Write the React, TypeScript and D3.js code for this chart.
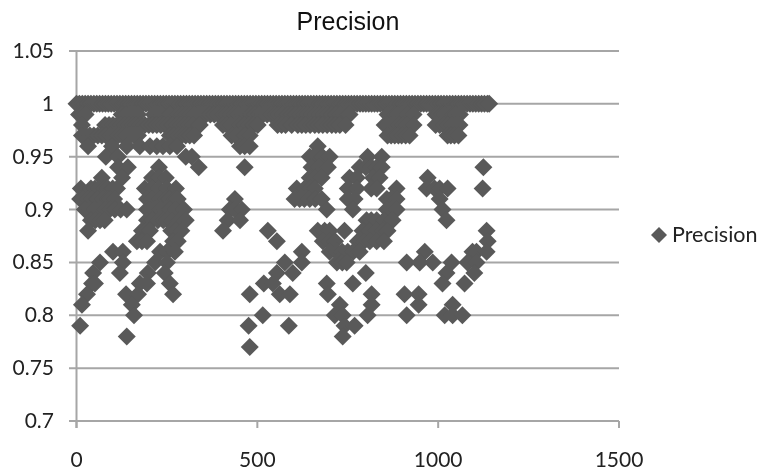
import React, { useEffect, useRef } from "react";
import * as d3 from "d3";

const yTicks = [0.7, 0.75, 0.8, 0.85, 0.9, 0.95, 1, 1.05];
const xTicks = [0, 500, 1000, 1500];

// x values (sample index), one list per precision level
const p100 = [0,8,16,24,32,40,48,56,64,72,80,88,96,104,112,120,128,136,144,152,160,168,176,184,192,200,208,216,224,232,240,248,256,264,272,280,288,296,304,312,320,328,336,344,352,360,368,376,384,392,400,408,416,424,432,440,448,456,464,472,480,488,496,504,512,520,528,536,544,552,560,568,576,584,592,600,608,616,624,632,640,648,656,664,672,680,688,696,704,712,720,728,736,744,752,760,768,776,784,792,800,808,816,824,832,840,848,856,864,872,880,888,896,904,912,920,928,936,944,952,960,968,976,984,992,1000,1008,1016,1024,1032,1040,1048,1056,1064,1072,1080,1088,1096,1104,1112,1120,1128,1136,1141];
const p99 = [7,16,25,125,136,148,159,170,214,225,236,258,280,291,302,314,325,336,347,358,370,381,392,404,415,426,437,448,460,471,482,494,505,516,527,538,550,561,572,584,595,606,617,628,640,651,662,674,685,696,707,718,730,740,750,755,860,870,880,890,900,915,932,993,1001,1010,1020,1030,1040,1050,1060];
const p98 = [15,79,90,101,112,123,134,145,156,167,178,189,200,211,222,233,244,255,266,278,289,300,311,322,341,405,416,427,440,452,465,479,490,501,556,567,578,595,612,623,634,646,659,670,681,693,706,717,728,744,852,861,871,882,893,904,915,932,993,1004,1015,1026,1037,1048,1059];
const p97 = [15,26,37,48,59,70,81,92,104,115,126,137,148,159,170,258,269,280,291,302,313,325,429,440,452,465,479,860,870,880,890,899,910,921,1026,1035,1045,1056];
const p96 = [32,98,139,175,203,222,239,258,278,452,465,479,667];
const p95 = [81,115,302,319,645,655,680,700,805,844];
const p94 = [115,142,228,338,465,650,670,695,783,800,816,830,844,1125];
const p93 = [70,126,209,228,247,645,660,678,755,775,820,838,971];
const p92 = [12,40,51,62,75,87,100,112,189,208,228,250,275,609,631,645,659,750,775,815,830,885,968,990,1004,1026,1123];
const p91 = [10,20,32,45,59,72,87,95,104,195,210,231,245,258,270,280,438,603,617,630,645,660,678,750,769,858,870,885,1004];
const p90 = [23,37,51,65,79,92,106,122,139,195,203,217,231,245,258,275,297,424,438,457,692,764,858,870,885,1012];
const p89 = [40,52,65,78,195,210,225,240,252,264,283,302,418,452,802,815,830,850,874,1023];
const p88 = [32,181,195,203,262,275,290,405,529,667,686,700,741,791,810,830,847,860,1134];
const p87 = [167,181,195,267,280,554,681,700,715,778,795,811,830,850,1137];
const p86 = [101,128,231,250,272,623,700,720,735,750,765,783,963,1095,1106,1134];
const p85 = [65,128,217,250,576,623,720,735,747,913,949,985,1037,1081,1106];
const p84 = [46,120,197,244,554,598,800,1023,1100];
const p83 = [43,51,175,195,258,518,543,692,764,1012,1073];
const p82 = [29,137,170,267,479,562,590,695,816,907,946];
const p81 = [15,153,728,816,946,1040];
const p80 = [159,515,714,736,805,913,1018,1040,1067];
const p79 = [10,476,587,741,769];
const p78 = [139,736];
const p77 = [479];

const levels: [number, number[]][] = [
  [1, p100], [0.99, p99], [0.98, p98], [0.97, p97], [0.96, p96], [0.95, p95],
  [0.94, p94], [0.93, p93], [0.92, p92], [0.91, p91], [0.9, p90], [0.89, p89],
  [0.88, p88], [0.87, p87], [0.86, p86], [0.85, p85], [0.84, p84], [0.83, p83],
  [0.82, p82], [0.81, p81], [0.8, p80], [0.79, p79], [0.78, p78], [0.77, p77],
];

const font = "Lato, 'Open Sans', sans-serif";
const grey = "#a6a6a6";
const markColor = "#595959";

export default function App() {
  const svgRef = useRef<SVGSVGElement>(null);

  useEffect(() => {
    const svg = d3.select(svgRef.current);
    svg.selectAll("*").remove();

    const x = d3.scaleLinear().domain([0, 1500]).range([76.5, 619]);
    const y = d3.scaleLinear().domain([0.7, 1.05]).range([421, 51]);

    // gridlines + bottom axis
    svg
      .append("g")
      .selectAll("line")
      .data(yTicks)
      .enter()
      .append("line")
      .attr("x1", 69)
      .attr("x2", 619)
      .attr("y1", (d) => y(d))
      .attr("y2", (d) => y(d))
      .attr("stroke", grey)
      .attr("stroke-width", 2);

    svg
      .append("line")
      .attr("x1", x(0))
      .attr("x2", x(0))
      .attr("y1", y(1.05))
      .attr("y2", y(0.7) + 7)
      .attr("stroke", grey)
      .attr("stroke-width", 2);

    svg
      .append("g")
      .selectAll("line")
      .data(xTicks)
      .enter()
      .append("line")
      .attr("x1", (d) => x(d))
      .attr("x2", (d) => x(d))
      .attr("y1", y(0.7))
      .attr("y2", y(0.7) + 7)
      .attr("stroke", grey)
      .attr("stroke-width", 2);

    // tick labels
    svg
      .append("g")
      .selectAll("text")
      .data(yTicks)
      .enter()
      .append("text")
      .attr("x", 54)
      .attr("y", (d) => y(d) + 7)
      .attr("text-anchor", "end")
      .attr("font-family", font)
      .attr("font-size", 21)
      .attr("fill", "#222")
      .text((d) => String(d));

    svg
      .append("g")
      .selectAll("text")
      .data(xTicks)
      .enter()
      .append("text")
      .attr("x", (d) => x(d))
      .attr("y", 467)
      .attr("text-anchor", "middle")
      .attr("font-family", font)
      .attr("font-size", 21)
      .attr("fill", "#222")
      .text((d) => String(d));

    // points
    const points = levels.flatMap(([p, xs]) => xs.map((v) => ({ v, p })));
    const diamond = d3.symbol().type(d3.symbolSquare).size(162);
    svg
      .append("g")
      .selectAll("path")
      .data(points)
      .enter()
      .append("path")
      .attr("d", diamond())
      .attr("transform", (d) => `translate(${x(d.v)},${y(d.p)}) rotate(45)`)
      .attr("fill", markColor);

    svg
      .append("text")
      .attr("x", 348)
      .attr("y", 30)
      .attr("text-anchor", "middle")
      .attr("font-family", "'Liberation Sans', Arial, sans-serif")
      .attr("font-size", 25)
      .attr("fill", "#111")
      .text("Precision");

    // legend
    svg
      .append("path")
      .attr("d", d3.symbol().type(d3.symbolSquare).size(128)())
      .attr("transform", "translate(659,235) rotate(45)")
      .attr("fill", markColor);
    svg
      .append("text")
      .attr("x", 672)
      .attr("y", 242)
      .attr("font-family", font)
      .attr("font-size", 21.5)
      .attr("fill", "#222")
      .text("Precision");
  }, []);

  return (
    <svg
      ref={svgRef}
      width={764}
      height={471}
      style={{ position: "absolute", left: 0, top: 0, background: "#fff", filter: "blur(0.4px)" }}
    />
  );
}
